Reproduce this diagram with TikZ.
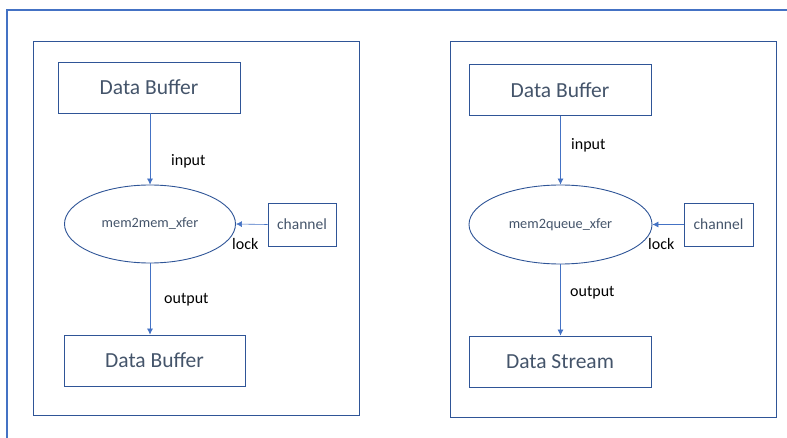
\documentclass[tikz,border=0pt]{standalone}
\usepackage{fontspec}
\setmainfont{Carlito}
\usepackage{tikz}
\usetikzlibrary{shapes.geometric,arrows.meta}
\usepackage{xcolor}
\definecolor{frameblue}{HTML}{4472C4}
\definecolor{boxblue}{HTML}{2F5597}
\definecolor{boxtext}{HTML}{44546A}

\tikzset{
  databox/.style={draw=boxblue, line width=0.9pt, inner sep=0pt, minimum width=182pt,
    minimum height=51pt, text=boxtext, font=\fontsize{21.5}{25}\selectfont},
  xferbox/.style={draw=boxblue, line width=0.9pt, ellipse, inner sep=0pt, text=boxtext,
    font=\fontsize{14.3}{17}\selectfont},
  chanbox/.style={draw=boxblue, line width=0.9pt, inner sep=0pt, minimum width=68pt,
    minimum height=43pt, text=boxtext, font=\fontsize{15.5}{18}\selectfont},
  flow/.style={draw=frameblue, line width=0.6pt, -{Latex[length=6pt,width=6pt]}},
  tag/.style={font=\fontsize{16}{19}\selectfont, inner sep=0pt}
}

\begin{document}
\begin{tikzpicture}[x=1pt, y=-1pt]
\useasboundingbox (0, 0) rectangle (787, 438);
% outer frame, cut off at right and bottom
\draw [frameblue, line width=1.5pt] (787, 10) -- (7, 10) -- (7, 438);

% left panel: memory to memory
\draw [boxblue, line width=0.9pt] (33, 41) rectangle (359, 415);
\node [databox] (srcL) at (149, 87.5) {Data Buffer};
\node [xferbox, minimum width=171pt, minimum height=78pt] (xferL) at (150, 224) {mem2mem\_xfer};
\node [chanbox] (chanL) at (302, 224.5) {channel};
\node [databox, minimum width=181pt] (dstL) at (154.5, 360.5) {Data Buffer};
\draw [flow] (xferL.north |- srcL.south) -- (xferL.north);
\draw [flow] (chanL.west) -- (xferL.east);
\draw [flow] (xferL.south) -- (xferL.south |- dstL.north);
\node [tag, anchor=west] (inL) at (171, 161) {input};
\node [tag, anchor=west] (outL) at (164, 300) {output};
\node [tag, anchor=west] (lockL) at (232, 244) {lock};

% right panel: memory to queue
\draw [boxblue, line width=0.9pt] (450, 41) rectangle (776, 417);
\node [databox] (srcR) at (560, 90) {Data Buffer};
\node [xferbox, minimum width=183pt, minimum height=79pt] (xferR) at (560.5, 224.5) {mem2queue\_xfer};
\node [chanbox, minimum width=69pt] (chanR) at (718.5, 224.5) {channel};
\node [databox] (dstR) at (560, 361.5) {Data Stream};
\draw [flow] (xferR.north |- srcR.south) -- (xferR.north);
\draw [flow] (chanR.west) -- (xferR.east);
\draw [flow] (xferR.south) -- (xferR.south |- dstR.north);
\node [tag, anchor=west] (inR) at (571, 145) {input};
\node [tag, anchor=west] (outR) at (570, 293) {output};
\node [tag, anchor=west] (lockR) at (648, 244) {lock};
\end{tikzpicture}
\end{document}
